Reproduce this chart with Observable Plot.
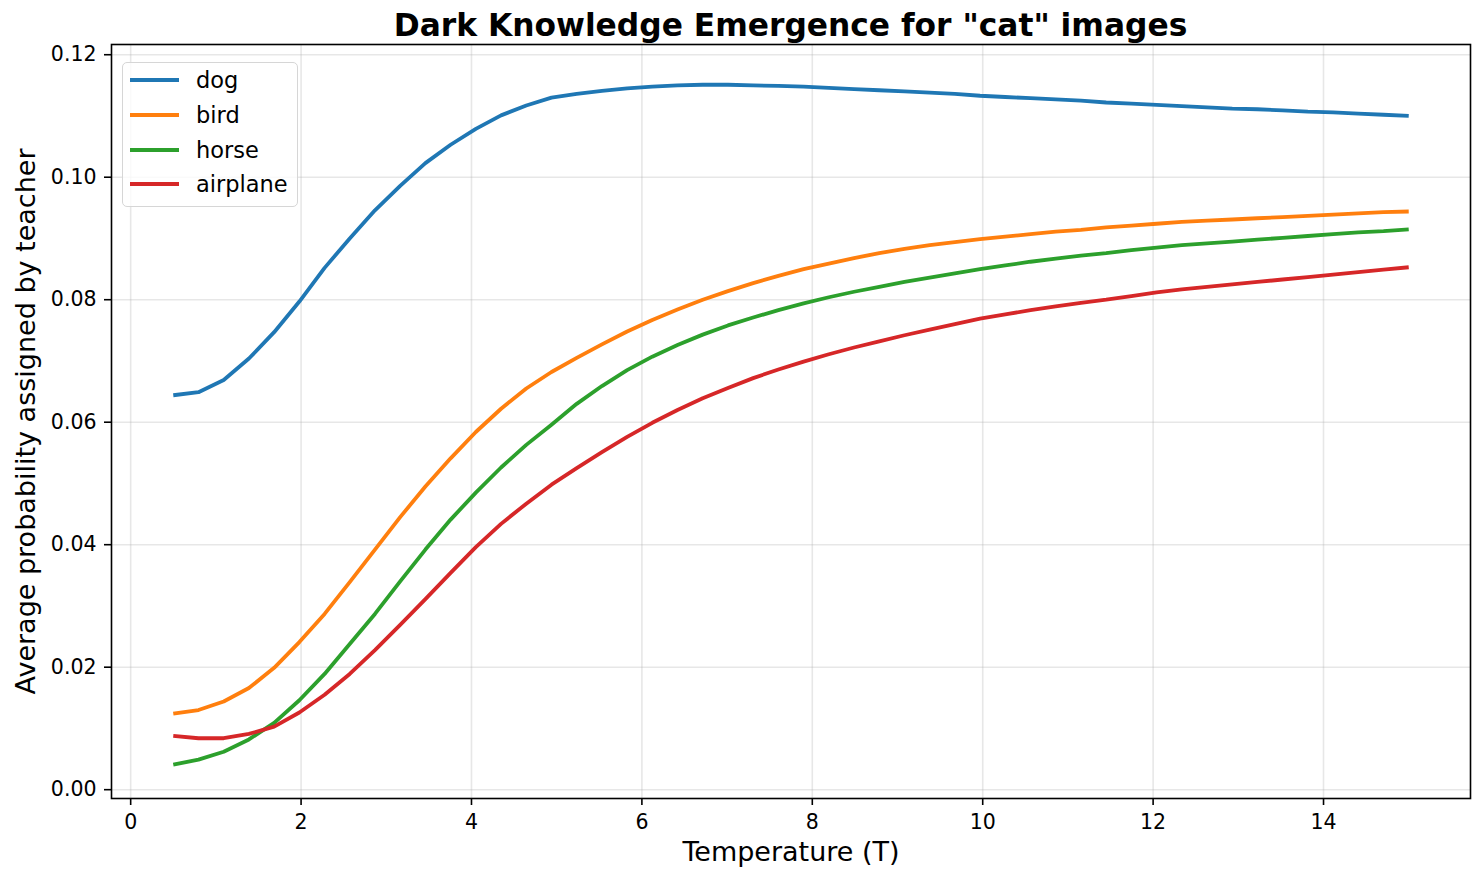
<!DOCTYPE html>
<html>
<head>
<meta charset="utf-8">
<script src="https://cdn.jsdelivr.net/npm/d3@7"></script>
<script src="https://cdn.jsdelivr.net/npm/@observablehq/plot@0.6"></script>
<style>
  html, body { margin: 0; padding: 0; background: #fff; }
  body { font-family: "DejaVu Sans", sans-serif; }
  #wrap { position: relative; width: 1484px; height: 882px; }
  #title { position: absolute; left: 111px; width: 1359px; top: 0px; height: 40px; text-align: center;
           font-weight: bold; font-size: 31.3px; line-height: 50px; color: #000; white-space: nowrap;
           z-index: 2; overflow: visible; }
  #chart { position: absolute; left: 0; top: 42px; z-index: 1; }
  #legend { position: absolute; left: 122px; top: 62px; width: 176px; height: 145px;
            border: 1.5px solid #d6d6d6; border-radius: 5px; background: rgba(255,255,255,0.8);
            box-sizing: border-box; z-index: 3; }
  .row { position: absolute; left: 0; height: 30px; display: flex; align-items: center; }
  .row svg { margin-left: 7px; }
  .row span { margin-left: 17px; font-size: 22.5px; color: #000; }
</style>
</head>
<body>
<div id="wrap">
  <div id="title">Dark Knowledge Emergence for "cat" images</div>
  <div id="chart"></div>
  <div id="legend"></div>
</div>
<script>
const temperatures = [0.5, 0.796, 1.092, 1.388, 1.684, 1.980, 2.276, 2.571, 2.867, 3.163,
  3.459, 3.755, 4.051, 4.347, 4.643, 4.939, 5.235, 5.531, 5.827, 6.122,
  6.418, 6.714, 7.010, 7.306, 7.602, 7.898, 8.194, 8.490, 8.786, 9.082,
  9.378, 9.673, 9.969, 10.265, 10.561, 10.857, 11.153, 11.449, 11.745, 12.041,
  12.337, 12.633, 12.929, 13.224, 13.520, 13.816, 14.112, 14.408, 14.704, 15.0];

const dog = [0.0644, 0.0649, 0.0669, 0.0704, 0.0747, 0.0797, 0.0852, 0.0900, 0.0946, 0.0986,
  0.1023, 0.1053, 0.1079, 0.1101, 0.1117, 0.1130, 0.1136, 0.1141, 0.1145, 0.1148,
  0.1150, 0.1151, 0.1151, 0.1150, 0.1149, 0.1148, 0.1146, 0.1144, 0.1142, 0.1140,
  0.1138, 0.1136, 0.1133, 0.1131, 0.1129, 0.1127, 0.1125, 0.1122, 0.1120, 0.1118,
  0.1116, 0.1114, 0.1112, 0.1111, 0.1109, 0.1107, 0.1106, 0.1104, 0.1102, 0.1100];

const bird = [0.0124, 0.0130, 0.0144, 0.0166, 0.0199, 0.0241, 0.0287, 0.0339, 0.0392, 0.0445,
  0.0495, 0.0541, 0.0584, 0.0622, 0.0655, 0.0682, 0.0705, 0.0727, 0.0748, 0.0767,
  0.0784, 0.0800, 0.0814, 0.0827, 0.0839, 0.0850, 0.0859, 0.0868, 0.0876, 0.0883,
  0.0889, 0.0894, 0.0899, 0.0903, 0.0907, 0.0911, 0.0914, 0.0918, 0.0921, 0.0924,
  0.0927, 0.0929, 0.0931, 0.0933, 0.0935, 0.0937, 0.0939, 0.0941, 0.0943, 0.0944];

const horse = [0.0041, 0.0049, 0.0062, 0.0082, 0.0109, 0.0146, 0.0189, 0.0238, 0.0287, 0.0340,
  0.0392, 0.0441, 0.0485, 0.0526, 0.0563, 0.0596, 0.0630, 0.0659, 0.0685, 0.0707,
  0.0726, 0.0743, 0.0758, 0.0771, 0.0783, 0.0794, 0.0804, 0.0813, 0.0821, 0.0829,
  0.0836, 0.0843, 0.0850, 0.0856, 0.0862, 0.0867, 0.0872, 0.0876, 0.0881, 0.0885,
  0.0889, 0.0892, 0.0895, 0.0898, 0.0901, 0.0904, 0.0907, 0.0910, 0.0912, 0.0915];

const airplane = [0.0088, 0.0084, 0.0084, 0.0091, 0.0103, 0.0126, 0.0155, 0.0189, 0.0228, 0.0269,
  0.0311, 0.0354, 0.0396, 0.0434, 0.0467, 0.0498, 0.0525, 0.0551, 0.0576, 0.0599,
  0.0620, 0.0639, 0.0656, 0.0672, 0.0686, 0.0699, 0.0711, 0.0722, 0.0732, 0.0742,
  0.0751, 0.0760, 0.0769, 0.0776, 0.0783, 0.0789, 0.0795, 0.0800, 0.0806, 0.0812,
  0.0817, 0.0821, 0.0825, 0.0829, 0.0833, 0.0837, 0.0841, 0.0845, 0.0849, 0.0853];

const seriesNames = ["dog", "bird", "horse", "airplane"];
const seriesColors = ["#1f77b4", "#ff7f0e", "#2ca02c", "#d62728"];
const xTicks = [0, 2, 4, 6, 8, 10, 12, 14];
const yTicks = [0.00, 0.02, 0.04, 0.06, 0.08, 0.10, 0.12];
const xLabel = "Temperature (T)";
const yLabel = "Average probability assigned by teacher";

const seriesValues = [dog, bird, horse, airplane];
const data = [];
seriesNames.forEach((name, i) => {
  temperatures.forEach((t, j) => data.push({series: name, T: t, p: seriesValues[i][j]}));
});

const chart = Plot.plot({
  width: 1484,
  height: 840,
  marginLeft: 111,
  marginRight: 14,
  marginTop: 2,
  marginBottom: 84,
  style: {fontFamily: "DejaVu Sans, sans-serif", fontSize: "20.5px", color: "#000", background: "transparent", overflow: "visible"},
  x: {domain: [-0.225, 15.725]},
  y: {domain: [-0.00144, 0.12167]},
  color: {domain: seriesNames, range: seriesColors},
  marks: [
    Plot.gridX(xTicks, {stroke: "#b0b0b0", strokeOpacity: 0.3, strokeWidth: 1.6}),
    Plot.gridY(yTicks, {stroke: "#b0b0b0", strokeOpacity: 0.3, strokeWidth: 1.6}),
    Plot.axisX(xTicks, {tickSize: 7, tickPadding: 9, tickFormat: d => String(d), stroke: "#000",
      strokeWidth: 1.6, fontSize: 20.5, label: null}),
    Plot.axisY(yTicks, {tickSize: 7, tickPadding: 8, tickFormat: d3.format(".2f"), stroke: "#000",
      strokeWidth: 1.6, fontSize: 20.5, label: null}),
    Plot.line(data, {x: "T", y: "p", z: "series", stroke: "series", strokeWidth: 3.8,
      strokeLinejoin: "round", strokeLinecap: "butt"}),
    Plot.frame({stroke: "#000", strokeWidth: 1.6}),
    Plot.text([xLabel], {frameAnchor: "bottom", dy: 54, text: d => d, fontSize: 27,
      textAnchor: "middle", lineAnchor: "middle", fill: "#000"}),
    Plot.text([yLabel], {frameAnchor: "left", dx: -85, text: d => d, fontSize: 27, rotate: -90,
      textAnchor: "middle", lineAnchor: "middle", fill: "#000"})
  ]
});
document.getElementById("chart").appendChild(chart);

// legend
const legend = document.getElementById("legend");
seriesNames.forEach((name, i) => {
  const row = document.createElement("div");
  row.className = "row";
  row.style.top = (2 + i * 34.8) + "px";
  row.innerHTML = `<svg width="49" height="6"><line x1="0" y1="3" x2="49" y2="3" stroke="${seriesColors[i]}" stroke-width="3.8"/></svg><span>${name}</span>`;
  legend.appendChild(row);
});
</script>
</body>
</html>
